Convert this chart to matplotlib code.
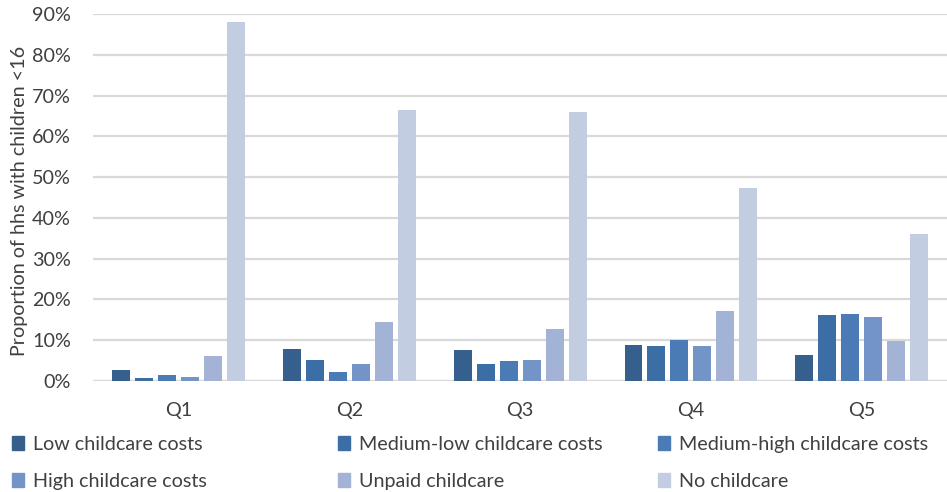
import numpy as np
import matplotlib
matplotlib.use('Agg')
import matplotlib.pyplot as plt
from matplotlib.patches import Patch

plt.rcParams['font.family'] = ['Lato', 'DejaVu Sans']

quintiles = ['Q1', 'Q2', 'Q3', 'Q4', 'Q5']
series_names = ['Low childcare costs', 'Medium-low childcare costs', 'Medium-high childcare costs',
                'High childcare costs', 'Unpaid childcare', 'No childcare']
low_costs = [0.027, 0.078, 0.076, 0.088, 0.064]
medium_low_costs = [0.007, 0.051, 0.042, 0.086, 0.162]
medium_high_costs = [0.014, 0.022, 0.049, 0.100, 0.164]
high_costs = [0.009, 0.042, 0.051, 0.086, 0.157]
unpaid = [0.061, 0.145, 0.127, 0.172, 0.098]
no_childcare = [0.880, 0.664, 0.659, 0.473, 0.360]
colors = ['#355F8D', '#3A6EA5', '#4A7BB5', '#7294C7', '#A2B3D5', '#C2CDE1']

series = [low_costs, medium_low_costs, medium_high_costs, high_costs, unpaid, no_childcare]
text_color = '#404040'
fs = 14.2

fig = plt.figure(figsize=(9.47, 4.92), dpi=100)
ax = fig.add_axes([0.0982, 0.2256, 0.902, 0.7459])

x = np.arange(len(quintiles))
pitch = 0.1345
width = 0.105
for i, vals in enumerate(series):
    ax.bar(x + (i - 2.5) * pitch, vals, width=width, color=colors[i], zorder=3)

ax.set_xlim(-0.5, len(quintiles) - 0.5)
ax.set_ylim(0, 0.9)
ax.set_yticks(np.arange(0, 0.91, 0.1))
ax.set_yticklabels([f'{int(round(v * 100))}%' for v in np.arange(0, 0.91, 0.1)])
ax.set_xticks(x)
ax.set_xticklabels(quintiles)
ax.grid(axis='y', color='#D9D9D9', linewidth=1.6, zorder=0)
for side in ['top', 'right', 'left', 'bottom']:
    ax.spines[side].set_visible(False)
ax.axhline(0, color='#D9D9D9', linewidth=1.6, zorder=2)
ax.tick_params(axis='both', length=0, labelsize=fs, colors=text_color)
ax.tick_params(axis='y', pad=16)
ax.tick_params(axis='x', pad=15)
ax.set_ylabel('Proportion of hhs with children <16', fontsize=fs, color=text_color)
ax.yaxis.set_label_coords(-0.076, 0.49)

# three legend columns, two rows each
col_x = [0.0125, 0.357, 0.695]
for c in range(3):
    handles = [Patch(color=colors[c]), Patch(color=colors[c + 3])]
    labels = [series_names[c], series_names[c + 3]]
    fig.legend(handles, labels, loc='upper left', bbox_to_anchor=(col_x[c], 0.114),
               frameon=False, fontsize=fs, handlelength=0.6, handleheight=0.7,
               handletextpad=0.45, labelspacing=1.0, labelcolor=text_color,
               borderaxespad=0, borderpad=0)

fig.savefig('out.png', dpi=100)
